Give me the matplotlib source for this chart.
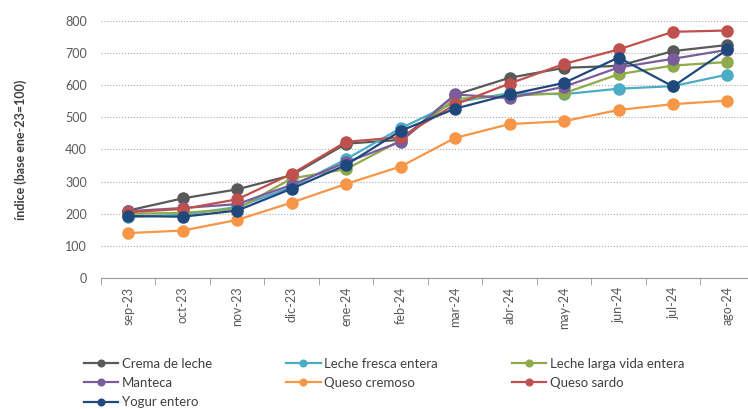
import numpy as np
import matplotlib.pyplot as plt

#months on the x axis
meses = ['sep-23', 'oct-23', 'nov-23', 'dic-23', 'ene-24', 'feb-24',
         'mar-24', 'abr-24', 'may-24', 'jun-24', 'jul-24', 'ago-24']

#index values
crema_de_leche = [210, 248, 276, 320, 418, 430, 570, 623, 654, 660, 706, 725]
leche_fresca = [190, 197, 221, 283, 370, 466, 547, 575, 572, 589, 597, 633]
leche_larga = [200, 203, 215, 310, 339, 428, 557, 567, 575, 634, 661, 672]
manteca = [208, 218, 230, 290, 360, 424, 571, 560, 595, 655, 682, 710]
queso_cremoso = [140, 148, 181, 235, 293, 347, 436, 479, 488, 523, 541, 552]
queso_sardo = [205, 215, 245, 324, 424, 438, 540, 605, 666, 711, 766, 770]
yogur_entero = [193, 191, 210, 278, 352, 458, 527, 571, 607, 686, 596, 711]

series = [
    ('Crema de leche', crema_de_leche, '#595959'),
    ('Leche fresca entera', leche_fresca, '#4BACC6'),
    ('Leche larga vida entera', leche_larga, '#8EAA4A'),
    ('Manteca', manteca, '#7B5C9C'),
    ('Queso cremoso', queso_cremoso, '#F79646'),
    ('Queso sardo', queso_sardo, '#C0504D'),
    ('Yogur entero', yogur_entero, '#1F497D'),
]

plt.rcParams['font.family'] = ['Lato', 'DejaVu Sans']
fig = plt.figure(figsize=(7.48, 4.09), dpi=100)
ax = fig.add_axes([0.135, 0.320, 0.874, 0.629])

x = np.arange(len(meses))
lines = []
for name, vals, col in series:
    ln, = ax.plot(x, vals, color=col, lw=1.6, marker='o', ms=8, label=name)
    lines.append(ln)

ax.set_xlim(-0.5, len(meses) - 0.5)
ax.set_ylim(0, 800)
ax.set_yticks(range(0, 801, 100))
ax.set_xticks(x)
ax.set_xticklabels(meses, rotation=90, color='#595959', fontsize=9)
ax.set_xticks(np.arange(-0.5, len(meses), 1), minor=True)
ax.tick_params(axis='x', which='major', length=0, pad=6)
ax.tick_params(axis='x', which='minor', length=5, color='#999999')
ax.tick_params(axis='y', length=0, labelcolor='#595959', labelsize=9, pad=10)

ax.grid(axis='y', linestyle=':', color='#AAAAAA', lw=0.8)
ax.set_axisbelow(True)
for s in ['top', 'right', 'left']:
    ax.spines[s].set_visible(False)
ax.spines['bottom'].set_color('#999999')

ax.set_ylabel('índice (base ene-23=100)', fontsize=9, fontweight='bold',
              color='#404040', labelpad=8)
ax.yaxis.set_label_coords(-0.113, 0.5)

#legend is filled column-wise, so reorder to read row-wise like the original
order = [0, 3, 6, 1, 4, 2, 5]
fig.legend([lines[i] for i in order], [series[i][0] for i in order],
           loc='upper left', bbox_to_anchor=(0.105, 0.138), ncol=3,
           frameon=False, fontsize=9.5, handlelength=2.6, handletextpad=0.3,
           columnspacing=5.6, labelspacing=0.55, markerscale=0.6,
           labelcolor='#404040', borderaxespad=0)

fig.savefig('out.png', dpi=100)
